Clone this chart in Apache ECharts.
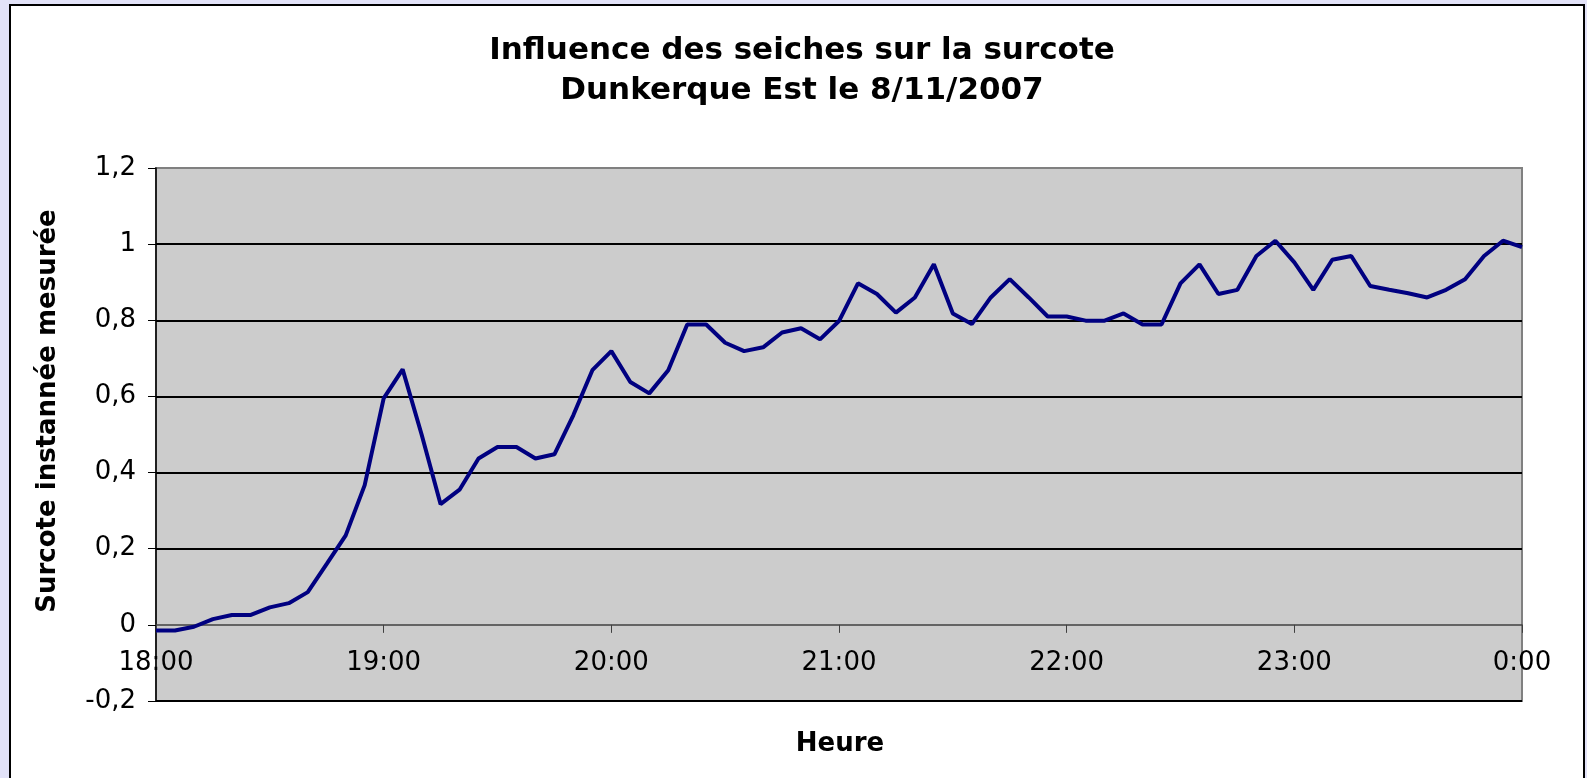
<!DOCTYPE html>
<html>
<head>
<meta charset="utf-8">
<script src="https://cdn.jsdelivr.net/npm/echarts@6/dist/echarts.min.js"></script>
<style>
  html, body { margin: 0; padding: 0; background: #e2e2f8; }
  #chart { width: 1587px; height: 778px; }
</style>
</head>
<body>
<div id="chart"></div>
<script>
const titleLines = ["Influence des seiches sur la surcote", "Dunkerque Est le 8/11/2007"];
const yAxisTitle = "Surcote instannée mesurée";
const xAxisTitle = "Heure";

const times = [
  "18:00","18:05","18:10","18:15","18:20","18:25","18:30","18:35","18:40","18:45","18:50","18:55",
  "19:00","19:05","19:10","19:15","19:20","19:25","19:30","19:35","19:40","19:45","19:50","19:55",
  "20:00","20:05","20:10","20:15","20:20","20:25","20:30","20:35","20:40","20:45","20:50","20:55",
  "21:00","21:05","21:10","21:15","21:20","21:25","21:30","21:35","21:40","21:45","21:50","21:55",
  "22:00","22:05","22:10","22:15","22:20","22:25","22:30","22:35","22:40","22:45","22:50","22:55",
  "23:00","23:05","23:10","23:15","23:20","23:25","23:30","23:35","23:40","23:45","23:50","23:55",
  "0:00"
];

const surcote = [
  -0.015, -0.015, -0.005, 0.015, 0.026, 0.026, 0.046, 0.057, 0.086, 0.16, 0.235, 0.367,
  0.595, 0.671, 0.50, 0.317, 0.355, 0.437, 0.467, 0.467, 0.437, 0.448, 0.551, 0.669,
  0.719, 0.638, 0.608, 0.669, 0.789, 0.789, 0.741, 0.719, 0.729, 0.768, 0.779, 0.75,
  0.798, 0.897, 0.869, 0.82, 0.86, 0.947, 0.818, 0.79, 0.86, 0.908, 0.86, 0.81,
  0.81, 0.799, 0.799, 0.818, 0.789, 0.789, 0.897, 0.947, 0.869, 0.88, 0.969, 1.009,
  0.952, 0.88, 0.959, 0.969, 0.89, 0.88, 0.871, 0.86, 0.88, 0.908, 0.969, 1.009,
  0.992
];

const yMin = -0.2, yMax = 1.2, yStep = 0.2;

const chart = echarts.init(document.getElementById('chart'), null, { renderer: 'canvas' });
const FONT = '"DejaVu Sans", Verdana, sans-serif';

const gridTop = 168, gridBottom = 77;
const plotH = 778 - gridTop - gridBottom;
const zeroOffset = -plotH * (0 - yMin) / (yMax - yMin);

chart.setOption({
  animation: false,
  backgroundColor: '#e2e2f8',
  graphic: [
    {
      type: 'rect', z: -10, silent: true,
      shape: { x: 10, y: 5, width: 1574, height: 790 },
      style: { fill: '#ffffff', stroke: '#000000', lineWidth: 2 }
    },
    {
      type: 'text', silent: true,
      x: 48, y: 411, rotation: Math.PI / 2,
      style: {
        text: yAxisTitle, fill: '#000', font: 'bold 26px ' + FONT,
        align: 'center', verticalAlign: 'middle'
      }
    },
    {
      type: 'text', silent: true,
      x: 840, y: 744,
      style: {
        text: xAxisTitle, fill: '#000', font: 'bold 26px ' + FONT,
        align: 'center', verticalAlign: 'middle'
      }
    }
  ],
  title: {
    text: titleLines.join('\n'),
    left: 797, top: 26,
    textAlign: 'center',
    textStyle: {
      fontFamily: FONT, fontWeight: 'bold', fontSize: 31, lineHeight: 40, color: '#000'
    }
  },
  grid: {
    left: 156, right: 65, top: gridTop, bottom: gridBottom,
    show: true, backgroundColor: '#cccccc', borderColor: '#808080', borderWidth: 2
  },
  xAxis: {
    type: 'category',
    data: times,
    boundaryGap: false,
    offset: zeroOffset,
    axisLine: { onZero: false, lineStyle: { color: '#404040', width: 1.5 } },
    axisTick: { show: true, interval: 11, length: 8, lineStyle: { color: '#404040', width: 1 } },
    axisLabel: {
      interval: 11, margin: 25, color: '#000',
      fontFamily: FONT, fontSize: 26
    },
    splitLine: { show: false }
  },
  yAxis: {
    type: 'value',
    min: yMin, max: yMax, interval: yStep,
    axisLine: { show: true, lineStyle: { color: '#000', width: 1.5 } },
    axisTick: { show: true, length: 8, lineStyle: { color: '#000', width: 1 } },
    axisLabel: {
      margin: 20, color: '#000', fontFamily: FONT, fontSize: 26,
      formatter: function (v) {
        const r = Math.round(v * 10) / 10;
        return String(r).replace('.', ',');
      }
    },
    splitLine: {
      show: true,
      lineStyle: {
        width: 2,
        color: ['#000000', 'rgba(0,0,0,0)', '#000000', '#000000', '#000000', '#000000', '#000000', '#808080']
      }
    }
  },
  series: [{
    type: 'line',
    data: surcote,
    showSymbol: false,
    symbol: 'none',
    smooth: false,
    lineStyle: { color: '#000080', width: 4 },
    itemStyle: { color: '#000080' },
    z: 3
  }]
});
</script>
</body>
</html>
